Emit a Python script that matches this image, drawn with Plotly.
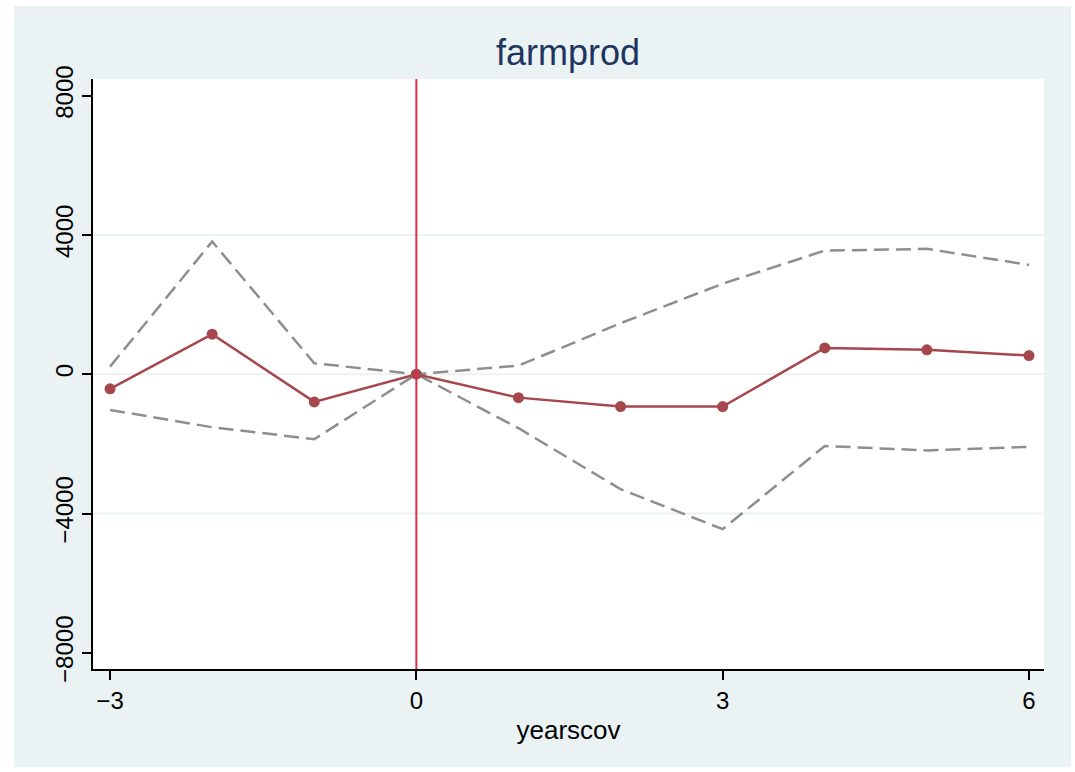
import plotly.graph_objects as go

years = [-3, -2, -1, 0, 1, 2, 3, 4, 5, 6]
coef = [-420, 1150, -795, 0, -672, -930, -930, 755, 700, 535]
upper = [218, 3810, 316, 0, 247, 1464, 2600, 3550, 3600, 3140]
lower = [-1025, -1522, -1866, 0, -1550, -3300, -4450, -2060, -2190, -2087]
yticks = [-8000, -4000, 0, 4000, 8000]
xticks = [-3, 0, 3, 6]
grid_vals = [-4000, 0, 4000]

W, H = 1075, 772
ml, mr, mt, mb = 93, 31, 79, 103
pw, ph = W - ml - mr, H - mt - mb

def px2paper_x(px):
    return (px - ml) / pw

def px2paper_y(py):
    return (H - mb - py) / ph

fig = go.Figure()

gray = "#8e8e8e"
red = "#a5474c"

fig.add_trace(go.Scatter(x=years, y=upper, mode="lines",
                         line=dict(color=gray, width=2.5, dash="15px,7px"), showlegend=False))
fig.add_trace(go.Scatter(x=years, y=lower, mode="lines",
                         line=dict(color=gray, width=2.5, dash="15px,7px"), showlegend=False))
fig.add_trace(go.Scatter(x=years, y=coef, mode="lines+markers",
                         line=dict(color=red, width=2.5),
                         marker=dict(color=red, size=11), showlegend=False))

shapes = []
# outer background panel
shapes.append(dict(type="rect", xref="paper", yref="paper",
                   x0=px2paper_x(14), x1=px2paper_x(1071),
                   y0=px2paper_y(767), y1=px2paper_y(6),
                   fillcolor="#eaf2f3", line=dict(width=0), layer="below"))
# inner plot region
shapes.append(dict(type="rect", xref="paper", yref="paper", x0=0, x1=1, y0=0, y1=1,
                   fillcolor="white", line=dict(width=0), layer="below"))
for g in grid_vals:
    shapes.append(dict(type="line", xref="paper", yref="y", x0=0, x1=1, y0=g, y1=g,
                       line=dict(color="#eaf2f3", width=2), layer="below"))
shapes.append(dict(type="line", xref="x", yref="paper", x0=0, x1=0, y0=0, y1=1,
                   line=dict(color="#d4304f", width=2), layer="above"))

fig.update_layout(
    width=W, height=H,
    margin=dict(l=ml, r=mr, t=mt, b=mb),
    paper_bgcolor="white",
    plot_bgcolor="white",
    shapes=shapes,
    font=dict(family="Liberation Sans, Arial, sans-serif", color="black", size=24),
    title=dict(text="farmprod", x=(568 / W), xanchor="center", y=1 - 52 / H, yanchor="middle",
               font=dict(size=36, color="#1e3461")),
)

fig.update_xaxes(range=[-3.167, 6.147], tickvals=xticks, ticks="outside", ticklen=9,
                 tickwidth=1.5, tickcolor="black", showline=True, linecolor="black",
                 linewidth=1.5, showgrid=False, zeroline=False,
                 title=dict(text="yearscov", standoff=8, font=dict(size=26)),
                 tickfont=dict(size=24))
fig.update_yaxes(range=[-8465, 8478], tickvals=yticks, ticks="outside", ticklen=9,
                 tickwidth=1.5, tickcolor="black", showline=True, linecolor="black",
                 linewidth=1.5, showgrid=False, zeroline=False, tickangle=-90,
                 tickfont=dict(size=24))

fig.write_html("out.html")
